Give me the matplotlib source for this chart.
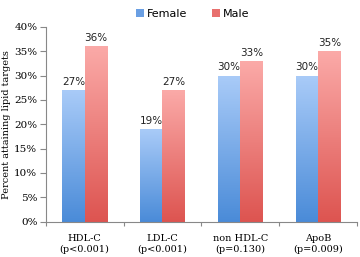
import matplotlib
matplotlib.use("Agg")
import matplotlib.pyplot as plt
import numpy as np
from matplotlib.colors import LinearSegmentedColormap

categories = ["HDL-C\n(p<0.001)", "LDL-C\n(p<0.001)", "non HDL-C\n(p=0.130)", "ApoB\n(p=0.009)"]
female = [27, 19, 30, 30]
male = [36, 27, 33, 35]
yticks = [0, 5, 10, 15, 20, 25, 30, 35, 40]

fig = plt.figure(figsize=(3.6, 2.57), dpi=100)
ax = fig.add_axes([0.127, 0.138, 0.865, 0.757])

x = np.arange(len(categories))
w = 0.29
cm_f = LinearSegmentedColormap.from_list("f", ["#4a8bd8", "#a9cbf8"])
cm_m = LinearSegmentedColormap.from_list("m", ["#dd5450", "#fbaaa8"])

bf = ax.bar(x - w/2, female, w, color="#7aaae8", label="Female", zorder=2)
bm = ax.bar(x + w/2, male, w, color="#f08080", label="Male", zorder=2)

grad = np.linspace(0, 1, 256).reshape(-1, 1)
for bars, cmap in ((bf, cm_f), (bm, cm_m)):
    for b in bars:
        x0, y0 = b.get_x(), b.get_y()
        x1, y1 = x0 + b.get_width(), y0 + b.get_height()
        im = ax.imshow(grad, cmap=cmap, origin="lower", aspect="auto",
                       extent=[x0, x1, y0, y1], zorder=2.5)
        im.set_clip_path(b)

for bars, vals in ((bf, female), (bm, male)):
    for b, v in zip(bars, vals):
        ax.text(b.get_x() + b.get_width()/2, v + 0.7, f"{v}%", ha="center", va="bottom",
                fontsize=7.5, family="DejaVu Sans", color="#222222")

ax.set_xlim(-0.5, len(categories) - 0.5)
ax.set_ylim(0, 40)
ax.set_yticks(yticks)
ax.set_yticklabels([f"{t}%" for t in yticks], family="DejaVu Serif", fontsize=7.5)
ax.set_xticks(np.arange(len(categories) + 1) - 0.5, minor=False)
ax.set_xticklabels([])
ax.set_xticks(x, minor=True)
ax.set_xticklabels(categories, minor=True, family="DejaVu Serif", fontsize=7,
                   linespacing=1.25)
ax.tick_params(axis="x", which="minor", length=0, pad=9)
ax.tick_params(axis="x", which="major", length=3, direction="out", color="#888888")
ax.tick_params(axis="y", length=4, direction="out", color="#888888", pad=2)
for s in ("top", "right"):
    ax.spines[s].set_visible(False)
for s in ("left", "bottom"):
    ax.spines[s].set_color("#888888")
    ax.spines[s].set_linewidth(0.8)
ax.set_ylabel("Percent attaining lipid targets", family="DejaVu Serif", fontsize=7, labelpad=2)

leg = fig.legend(handles=[bf, bm], loc="upper center", bbox_to_anchor=(0.535, 1.005), ncol=2,
                 frameon=False, handlelength=0.7, handleheight=0.7, handletextpad=0.3,
                 columnspacing=2.2, prop={"family": "DejaVu Sans", "size": 8})
leg.get_patches()[0].set_facecolor("#6a9fe3")
leg.get_patches()[1].set_facecolor("#e8706e")

fig.savefig("out.png", dpi=100)
